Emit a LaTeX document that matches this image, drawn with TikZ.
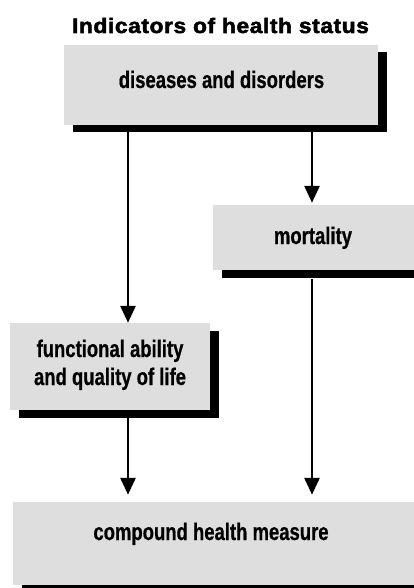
\documentclass[tikz,border=0pt]{standalone}
\usepackage{fontspec}
\setmainfont{Liberation Sans}
\newfontfamily\boxfont[FakeStretch=0.77,FakeBold=0.6]{Liberation Sans}
\newfontfamily\titlefont[FakeStretch=1.08,LetterSpace=3,FakeBold=2.4]{Liberation Sans}
\usetikzlibrary{arrows.meta,shadows}
\definecolor{boxgray}{rgb}{0.87,0.87,0.87}
\tikzset{
  panel/.style={fill=boxgray, draw=none, inner sep=0pt,
    drop shadow={shadow xshift=8.5pt, shadow yshift=-7.5pt, fill=black, opacity=1}},
  lbl/.style={anchor=base, inner sep=0pt, font=\boxfont\bfseries\fontsize{24}{28}\selectfont},
  flow/.style={line width=2.8pt, -{Triangle[length=17pt,width=15pt]}}
}
\begin{document}
\begin{tikzpicture}[x=1pt,y=-1pt]
  \useasboundingbox (0,0) rectangle (413,588);

  % title
  \node[anchor=base, inner sep=0pt, font=\titlefont\bfseries\fontsize{21}{25}\selectfont]
    (title) at (220.5,33) {Indicators of health status};

  % arrow columns
  \coordinate (cl) at (128,0);
  \coordinate (cr) at (312,0);

  % shaded panels with offset black shadows
  \node[panel, minimum width=314pt, minimum height=80pt] (dis) at (221,85) {};
  \node[panel, minimum width=212pt, minimum height=65pt] (mort) at (319,237.5) {};
  \node[panel, minimum width=200pt, minimum height=87pt] (fun) at (110,366.5) {};
  \node[panel, minimum width=412pt, minimum height=83pt] (comp) at (219,543.5) {};

  % labels
  \node[lbl] (disT) at (221.5,88) {diseases and disorders};
  \node[lbl] (mortT) at (313,244) {mortality};
  \node[lbl] (funT1) at (110,357) {functional ability};
  \node[lbl] (funT2) at (110,385) {and quality of life};
  \node[lbl] (compT) at (211,540) {compound health measure};

  % connectors
  \draw[flow] ([yshift=-7pt]dis.south -| cl) -- (fun.north -| cl);
  \draw[flow, shorten >=2pt] ([yshift=-7pt]dis.south -| cr) -- (mort.north -| cr);
  \draw[flow, shorten >=7pt] ([yshift=-9pt]mort.south -| cr) -- (comp.north -| cr);
  \draw[flow, shorten >=7pt] ([yshift=-7pt]fun.south -| cl) -- (comp.north -| cl);
\end{tikzpicture}
\end{document}
